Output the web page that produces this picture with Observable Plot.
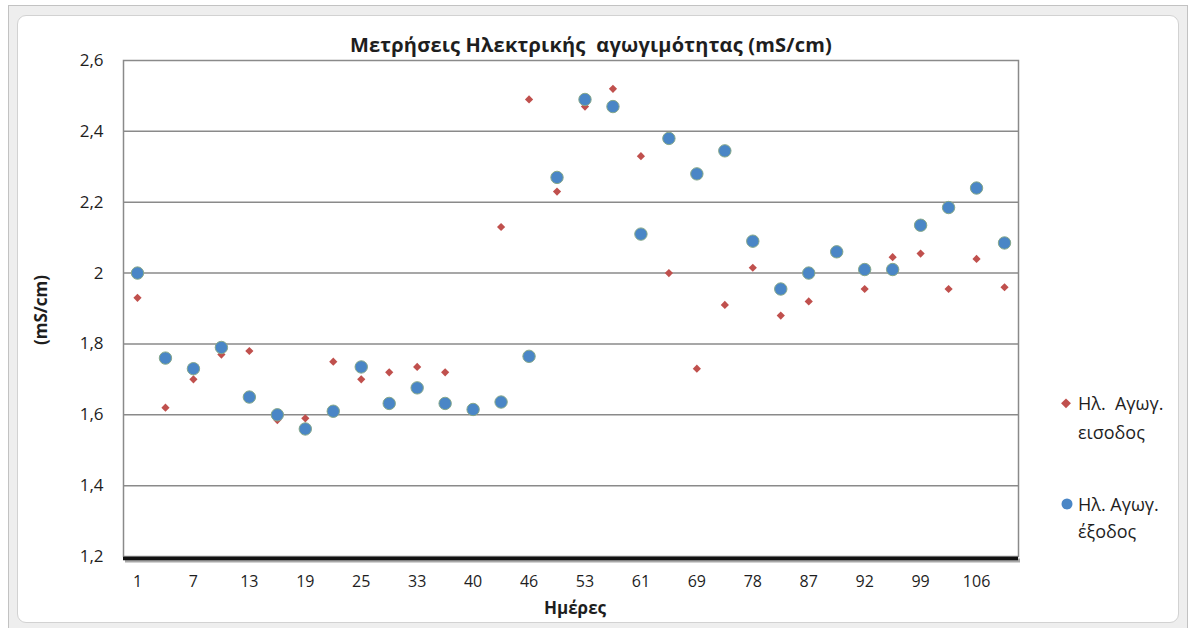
<!DOCTYPE html>
<html>
<head>
<meta charset="utf-8">
<script src="https://cdn.jsdelivr.net/npm/d3@7"></script>
<script src="https://cdn.jsdelivr.net/npm/@observablehq/plot@0.6"></script>
<style>
  html, body { margin: 0; padding: 0; background: #fff; }
  #wrap { position: relative; width: 1195px; height: 628px; overflow: hidden; font-family: "Open Sans", "Noto Sans", sans-serif; color: #1e1e1e; }
  .outer { position: absolute; left: 8px; top: 5px; width: 1180px; height: 640px; box-sizing: border-box; background: #eeeeee; border: 1px solid #c2c2c2; }
  .inner { position: absolute; left: 17px; top: 15px; width: 1162px; height: 608px; box-sizing: border-box; background: #fff; border: 1px solid #d2d2d2; border-radius: 9px; }
  #chart { position: absolute; left: 0; top: 0; }
  .lbl { position: absolute; transform: translate(-50%, -50%); line-height: 1; white-space: pre; }
  .title { font-weight: 700; font-size: 20px; letter-spacing: 0.2px; }
  .axt { font-weight: 700; font-size: 17px; }
  .leg { position: absolute; font-size: 18px; line-height: 1; white-space: pre; transform: translateY(-50%); }
  .sw-diamond { position: absolute; width: 6.5px; height: 6.5px; background: #C0504D; transform: translate(-50%, -50%) rotate(45deg); }
  .sw-dot { position: absolute; width: 11px; height: 11px; border-radius: 50%; background: #4A86C6; transform: translate(-50%, -50%); }
</style>
</head>
<body>
<div id="wrap">
  <div class="outer"></div>
  <div class="inner"></div>
  <div id="chart"></div>
</div>
<script>
// Electrical conductivity (mS/cm), inlet and outlet, one value per sampling day
const dayLabels = ["1", "7", "13", "19", "25", "33", "40", "46", "53", "61", "69", "78", "87", "92", "99", "106"];
const inlet  = [1.93, 1.62, 1.70, 1.77, 1.78, 1.585, 1.59, 1.75, 1.70, 1.72, 1.735, 1.72, 1.62, 2.13, 2.49, 2.23,
                2.47, 2.52, 2.33, 2.00, 1.73, 1.91, 2.015, 1.88, 1.92, 2.06, 1.955, 2.045, 2.055, 1.955, 2.04, 1.96];
const outlet = [2.00, 1.76, 1.73, 1.79, 1.65, 1.60, 1.56, 1.61, 1.735, 1.632, 1.676, 1.632, 1.615, 1.636, 1.765, 2.27,
                2.49, 2.47, 2.11, 2.38, 2.28, 2.345, 2.09, 1.955, 2.00, 2.06, 2.01, 2.01, 2.135, 2.185, 2.24, 2.085];
const yTicks = [1.2, 1.4, 1.6, 1.8, 2.0, 2.2, 2.4, 2.6];

const titleText = "Μετρήσεις Ηλεκτρικής  αγωγιμότητας (mS/cm)";
const xTitle = "Ημέρες";
const yTitle = "(mS/cm)";
const seriesNames = [["Ηλ.  Αγωγ.", "εισοδος"], ["Ηλ. Αγωγ.", "έξοδος"]];

const rows = inlet.map((v, i) => ({i, inlet: v, outlet: outlet[i]}));
const n = rows.length;
// every other sample carries a day label on the axis
const labelledIdx = dayLabels.map((_, k) => 2 * k);
const fmtY = v => String(Math.round(v * 10) / 10).replace(".", ",");

const W = 1195, H = 628;
const chart = Plot.plot({
  width: W,
  height: H,
  marginLeft: 123,
  marginRight: 177,
  marginTop: 60,
  marginBottom: 72,
  style: {background: "transparent", fontFamily: "'Open Sans', 'Noto Sans', sans-serif", fontSize: "16px", color: "#1e1e1e", overflow: "visible"},
  x: {type: "linear", domain: [-0.5, n - 0.5], axis: null},
  y: {domain: [yTicks[0], yTicks[yTicks.length - 1]], axis: null},
  marks: [
    Plot.ruleY(yTicks.slice(1, -1), {stroke: "#8a8a8a", strokeWidth: 1.5}),
    Plot.frame({stroke: "#8a8a8a", strokeWidth: 1.5}),
    // heavy category axis line with its drop shadow
    Plot.ruleY([yTicks[0]], {stroke: "#a8a8a8", strokeWidth: 4, dy: 4, dx: 2}),
    Plot.ruleY([yTicks[0]], {stroke: "#111", strokeWidth: 3.5, dy: 2}),
    Plot.axisY({ticks: yTicks, tickSize: 0, tickPadding: 20, tickFormat: fmtY, fontSize: 17}),
    Plot.axisX({ticks: labelledIdx, tickSize: 0, tickPadding: 19, tickFormat: i => dayLabels[i / 2], fontSize: 16, label: null}),
    Plot.dot(rows, {x: "i", y: "inlet", symbol: "diamond2", r: 3.7, fill: "#C0504D"}),
    Plot.dot(rows, {x: "i", y: "outlet", symbol: "circle", r: 6.2, fill: "#4A86C6", stroke: "#86a88a", strokeWidth: 1})
  ]
});
document.getElementById("chart").appendChild(chart);

const wrap = document.getElementById("wrap");
function addText(cls, text, x, y, extra) {
  const d = document.createElement("div");
  d.className = cls;
  d.textContent = text;
  d.style.left = x + "px";
  d.style.top = y + "px";
  if (extra) Object.assign(d.style, extra);
  wrap.appendChild(d);
  return d;
}
addText("lbl title", titleText, 591, 45);
addText("lbl axt", xTitle, 575, 607);
addText("lbl axt", yTitle, 40, 310, {transform: "translate(-50%, -50%) rotate(-90deg)"});

// legend
const sw1 = document.createElement("div"); sw1.className = "sw-diamond"; sw1.style.left = "1066px"; sw1.style.top = "403px"; wrap.appendChild(sw1);
addText("leg", seriesNames[0][0], 1078, 403);
addText("leg", seriesNames[0][1], 1078, 432);
const sw2 = document.createElement("div"); sw2.className = "sw-dot"; sw2.style.left = "1067px"; sw2.style.top = "504px"; wrap.appendChild(sw2);
addText("leg", seriesNames[1][0], 1078, 504);
addText("leg", seriesNames[1][1], 1078, 531);
</script>
</body>
</html>
